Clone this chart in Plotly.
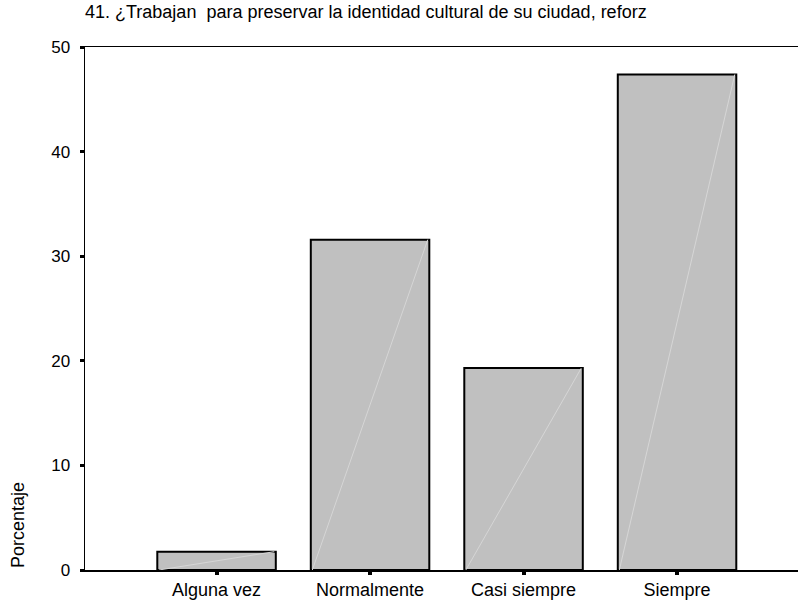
import plotly.graph_objects as go

categories = ["Alguna vez", "Normalmente", "Casi siempre", "Siempre"]
porcentaje = [1.75, 31.58, 19.30, 47.37]
y_ticks = [0, 10, 20, 30, 40, 50]
title_text = "41. ¿Trabajan  para preservar la identidad cultural de su ciudad, reforz"
y_label = "Porcentaje"

FONT = "Liberation Sans, Arial, sans-serif"
bar_w = 0.772
xs = list(range(len(categories)))

fig = go.Figure()
fig.add_trace(go.Bar(
    x=xs, y=porcentaje, width=bar_w,
    marker=dict(color="#c0c0c0", line=dict(color="#000000", width=2)),
    hoverinfo="skip", showlegend=False,
))
# faint diagonal artefact inside each bar (bottom-left to top-right)
for i, v in zip(xs, porcentaje):
    fig.add_trace(go.Scatter(
        x=[i - bar_w / 2 + 0.01, i + bar_w / 2 - 0.01], y=[0, v],
        mode="lines", line=dict(color="#d6d6d6", width=1),
        hoverinfo="skip", showlegend=False,
    ))

fig.update_layout(
    width=798, height=602,
    margin=dict(l=85, r=0, t=47, b=32),
    paper_bgcolor="white", plot_bgcolor="white",
    font=dict(family=FONT, color="#000000", size=17),
    title=dict(text=title_text, xref="container", x=85 / 798, xanchor="left",
               yref="container", y=1 - 5 / 602, yanchor="top",
               font=dict(family=FONT, size=18, color="#000000")),
    bargap=0,
)
fig.update_xaxes(
    range=[-0.857, 3.788], tickmode="array", tickvals=xs, ticktext=categories,
    showline=True, linecolor="#000000", linewidth=1.5, mirror=True,
    ticks="outside", ticklen=3, tickwidth=4, tickcolor="#000000",
    showgrid=False, zeroline=False, tickfont=dict(size=18),
)
fig.update_yaxes(
    range=[0, 50], tickmode="array", tickvals=y_ticks,
    showline=True, linecolor="#000000", linewidth=1.5, mirror=False,
    ticks="outside", ticklen=4, tickwidth=3, tickcolor="#000000",
    showgrid=False, zeroline=False, tickfont=dict(size=17),
    ticklabelstandoff=6,
)
fig.add_annotation(
    text=y_label, textangle=-90, showarrow=False,
    xref="paper", x=0, xanchor="center", xshift=-67,
    yref="paper", y=0, yanchor="bottom",
    font=dict(family=FONT, size=18, color="#000000"),
)
fig.write_html(
    "out.html",
    config={"displayModeBar": False, "staticPlot": True},
    post_script="document.body.style.margin='0';document.body.style.overflow='hidden';",
)
